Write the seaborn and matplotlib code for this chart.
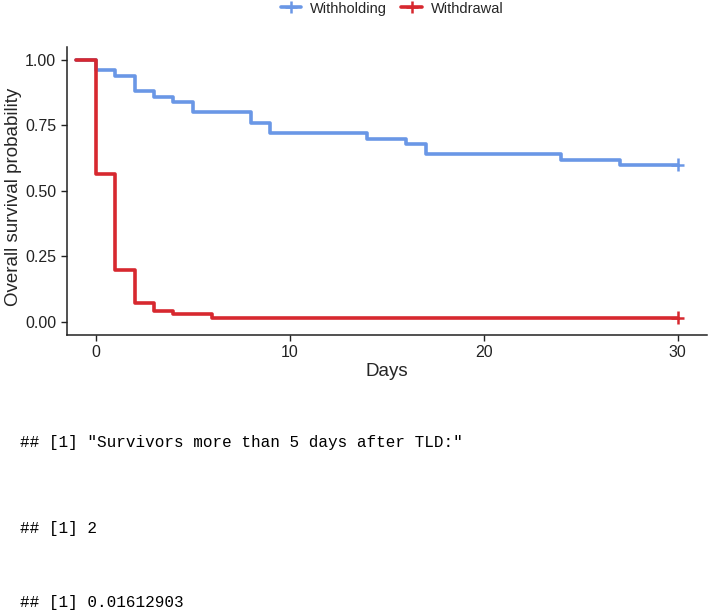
import pandas as pd
import matplotlib
matplotlib.use("Agg")
import matplotlib.pyplot as plt
from matplotlib.lines import Line2D
import seaborn as sns

# Kaplan-Meier step values
groups = ['Withholding', 'Withdrawal']
withholding_days = [-1, 0, 1, 2, 3, 4, 5, 8, 9, 14, 16, 17, 24, 27, 30]
withholding_surv = [1.0, 0.96, 0.94, 0.88, 0.86, 0.84, 0.80, 0.76, 0.72, 0.70, 0.68, 0.64, 0.62, 0.60, 0.60]
withdrawal_days = [-1, 0, 1, 2, 3, 4, 6, 30]
withdrawal_surv = [1.0, 0.565, 0.20, 0.072, 0.040, 0.032, 0.016, 0.016]
censor_days = [30, 30]
censor_surv = [0.60, 0.016]

output_lines = ['## [1] "Survivors more than 5 days after TLD:"',
                '## [1] 2',
                '## [1] 0.01612903']

colors = {'Withholding': '#6a97e6', 'Withdrawal': '#d7282f'}

df = pd.concat([
    pd.DataFrame({'Days': withholding_days, 'surv': withholding_surv, 'group': 'Withholding'}),
    pd.DataFrame({'Days': withdrawal_days, 'surv': withdrawal_surv, 'group': 'Withdrawal'}),
])
censor_df = pd.DataFrame({'Days': censor_days, 'surv': censor_surv, 'group': groups})

sns.set_theme(style='ticks')
plt.rcParams['font.family'] = ['Liberation Sans', 'DejaVu Sans']

fig = plt.figure(figsize=(7.09, 6.13), dpi=100)
ax = fig.add_axes([0.094, 0.4535, 0.903, 0.470])

sns.lineplot(data=df, x='Days', y='surv', hue='group', hue_order=groups,
             palette=colors, drawstyle='steps-post', estimator=None,
             linewidth=2.6, legend=False, ax=ax)
sns.scatterplot(data=censor_df, x='Days', y='surv', hue='group', hue_order=groups,
                palette=colors, marker='+', s=90, linewidth=1.8, legend=False, ax=ax)

ax.set_xlim(-1.5, 31.5)
ax.set_ylim(-0.05, 1.05)
ax.set_xticks([0, 10, 20, 30])
ax.set_yticks([0, 0.25, 0.5, 0.75, 1.0])
ax.set_yticklabels(['0.00', '0.25', '0.50', '0.75', '1.00'])
ax.tick_params(labelsize=11.5, colors='#222222', length=4, width=1, labelcolor='#222222')
ax.set_xlabel('Days', fontsize=13.5, labelpad=2)
ax.set_ylabel('Overall survival probability', fontsize=13.5)
ax.yaxis.set_label_coords(-0.07, 0.48)
for s in ['left', 'bottom']:
    ax.spines[s].set_color('#222222')
    ax.spines[s].set_linewidth(1.1)
sns.despine(ax=ax)

handles = [Line2D([], [], color=colors[g], lw=2.6, marker='+', markersize=9, markeredgewidth=1.8)
           for g in groups]
fig.legend(handles, groups, loc='center', bbox_to_anchor=(0.553, 0.986), ncol=2,
           frameon=False, fontsize=10.5, handlelength=1.4, handletextpad=0.6, columnspacing=1.0)

for txt, ypix in zip(output_lines, [443, 528, 603]):
    fig.text(20 / 709, 1 - ypix / 613, txt, family=['Liberation Mono', 'DejaVu Sans Mono'],
             fontsize=11.5, va='center', ha='left', color='#000000')

fig.savefig('out.png', dpi=100, facecolor='white')
